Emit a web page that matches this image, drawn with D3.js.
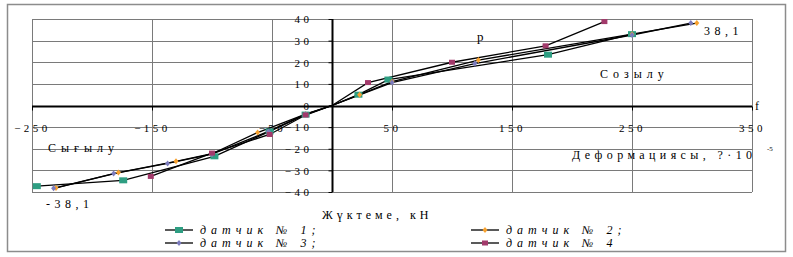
<!DOCTYPE html>
<html>
<head>
<meta charset="utf-8">
<script src="https://cdn.jsdelivr.net/npm/d3@7"></script>
<style>
  body { margin: 0; background: #fff; }
  text { font-family: "Liberation Serif", "DejaVu Serif", serif; fill: #000; }
</style>
</head>
<body>
<svg id="chart" width="793" height="257"></svg>
<script>
// deformation (x) and load (y)
const xTicks = [-250, -150, -50, 50, 150, 250, 350];
const yTicks = [-40, -30, -20, -10, 0, 10, 20, 30, 40];
const seriesNames = ["датчик № 1;", "датчик № 2;", "датчик № 3;", "датчик № 4"];

const s1 = [[-246, -37.3], [-174, -34.6], [-98, -23.5], [-52, -12], [-22, -4.2], [0, 0], [22, 5], [47, 12], [180, 23.5], [250, 33]];
const s2 = [[-230, -38.1], [-178, -31], [-130, -25.8], [-100, -22.3], [-62, -12.5], [-22, -4], [0, 0], [23, 5], [50, 11], [122, 21], [250, 33], [304, 38.1]];
const s3 = [[-232, -38.3], [-182, -31.5], [-137, -26.8], [-100, -22.5], [-53, -12], [-22, -4], [0, 0], [50, 10.6], [119, 19.4], [250, 32.6], [299, 38.1]];
const s4 = [[-151, -32.8], [-100, -22], [-52, -13.4], [-22, -4.4], [0, 0], [30, 10.6], [100, 20], [178, 27.6], [227, 38.8]];

const series = [
  { name: seriesNames[0], data: s1, color: "#2e9e82", shape: "rect", w: 8, h: 6 },
  { name: seriesNames[1], data: s2, color: "#f7a12e", shape: "diamond", w: 5, h: 5 },
  { name: seriesNames[2], data: s3, color: "#7b7bbd", shape: "diamond", w: 5, h: 5 },
  { name: seriesNames[3], data: s4, color: "#a23a6b", shape: "rect", w: 6, h: 5 }
];

const svg = d3.select("#chart");

// outer frame
svg.append("rect")
    .attr("x", 7.5).attr("y", 4.5)
    .attr("width", 778).attr("height", 247)
    .attr("fill", "none").attr("stroke", "#8c8c8c").attr("stroke-width", 1.5);

const x = d3.scaleLinear().domain([-250, 350]).range([32, 752]);
const y = d3.scaleLinear().domain([-40, 40]).range([192, 19]);

// grid
const grid = svg.append("g").attr("stroke", "#7a7a7a").attr("stroke-width", 1);
grid.selectAll(".h").data(yTicks).join("line")
    .attr("x1", x(-250)).attr("x2", x(350))
    .attr("y1", d => Math.round(y(d)) + 0.5).attr("y2", d => Math.round(y(d)) + 0.5);
grid.selectAll(".v").data(xTicks).join("line")
    .attr("y1", y(40)).attr("y2", y(-40))
    .attr("x1", d => Math.round(x(d)) + 0.5).attr("x2", d => Math.round(x(d)) + 0.5);

// axes through the origin
const xAxis = svg.append("g")
    .attr("transform", `translate(0,${Math.round(y(0)) + 0.5})`)
    .call(d3.axisBottom(x).tickValues(xTicks).tickSize(4).tickPadding(14).tickSizeOuter(0));
const yAxis = svg.append("g")
    .attr("transform", `translate(${Math.round(x(0)) + 0.5},0)`)
    .call(d3.axisLeft(y).tickValues(yTicks).tickSize(4).tickPadding(16).tickSizeOuter(0));

[xAxis, yAxis].forEach(a => {
  a.attr("font-family", null).attr("font-size", null);
  a.select(".domain").attr("stroke", "#000").attr("stroke-width", 2);
  a.selectAll(".tick line").attr("stroke", "#000");
  a.selectAll(".tick text")
      .style("font-family", "'Liberation Serif', serif")
      .style("font-size", "11px")
      .style("letter-spacing", "3.5px");
});
xAxis.select(".domain").attr("d", `M${x(-250)},0H${x(350)}`);
yAxis.select(".domain").attr("d", `M0,${y(40)}V${y(-40)}`);
yAxis.selectAll(".tick text").attr("dy", "0.35em");

// lines
const line = d3.line().x(d => x(d[0])).y(d => y(d[1]));
series.forEach(s => {
  svg.append("path")
      .datum(s.data)
      .attr("d", line)
      .attr("fill", "none")
      .attr("stroke", "#000")
      .attr("stroke-width", 1.3);
});

function marker(g, s, cx, cy) {
  if (s.shape === "rect") {
    g.append("rect")
        .attr("x", cx - s.w / 2).attr("y", cy - s.h / 2)
        .attr("width", s.w).attr("height", s.h)
        .attr("fill", s.color);
  } else {
    g.append("path")
        .attr("d", `M${cx},${cy - s.h / 2 - 0.5}L${cx + s.w / 2},${cy}L${cx},${cy + s.h / 2 + 0.5}L${cx - s.w / 2},${cy}Z`)
        .attr("fill", s.color);
  }
}

// no marker is drawn at the origin, all lines only pass through it
series.forEach(s => {
  const g = svg.append("g");
  s.data.filter(d => d[0] !== 0).forEach(d => marker(g, s, x(d[0]), y(d[1])));
});

// labels
const label = (t, px, py, opts = {}) => svg.append("text")
    .attr("x", px).attr("y", py)
    .style("font-size", (opts.size || 12) + "px")
    .style("letter-spacing", (opts.ls == null ? 4.5 : opts.ls) + "px")
    .style("font-style", opts.italic ? "italic" : "normal")
    .text(t);

label("р", 477, 41, { size: 13 });
label("f", 755, 110, { size: 12, ls: 0 });
label("38,1", 704, 35);
label("Созылу", 600, 78, { ls: 5 });
label("Сығылу", 48, 152, { ls: 5 });
label("-38,1", 46, 208);
label("Деформациясы, ?·10", 572, 159, { ls: 4.4 });
label("-5", 767, 151, { size: 7, ls: 0 });
label("Жүктеме, кН", 322, 219, { ls: 4 });

// legend
const legendPos = [[165, 230], [471, 230], [165, 243], [471, 243]];
series.forEach((s, i) => {
  const [lx, ly] = legendPos[i];
  const g = svg.append("g");
  g.append("line")
      .attr("x1", lx).attr("x2", lx + 28)
      .attr("y1", ly).attr("y2", ly)
      .attr("stroke", "#000").attr("stroke-width", 1.3);
  marker(g, s, lx + 14, ly);
  g.append("text")
      .attr("x", lx + 35).attr("y", ly + 4)
      .style("font-size", "12px")
      .style("font-style", "italic")
      .style("letter-spacing", "5px")
      .text(s.name);
});
</script>
</body>
</html>
